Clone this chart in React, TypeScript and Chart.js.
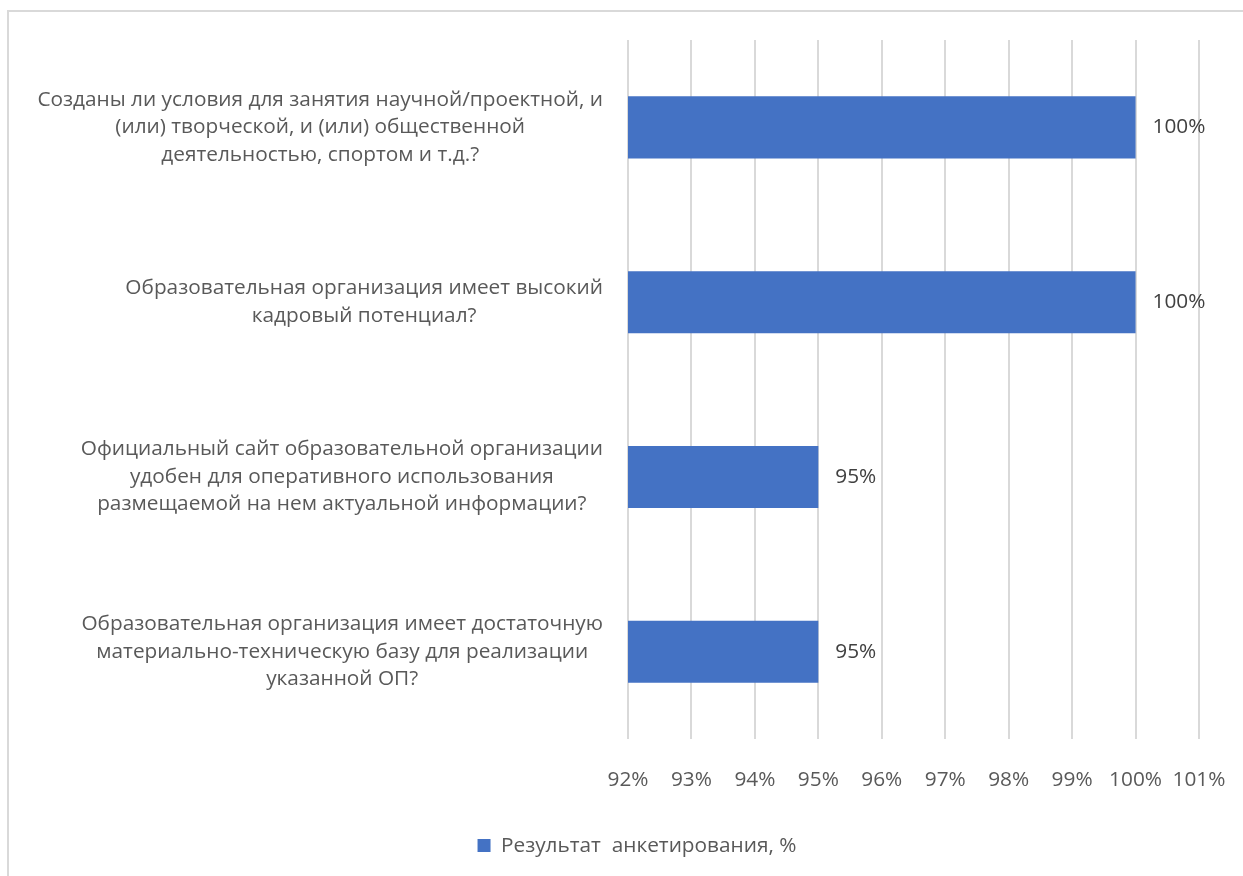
import React, { useEffect, useRef } from "react";
import { Chart, registerables } from "chart.js";

Chart.register(...registerables);

const categories: string[][] = [
  ["Созданы ли условия для занятия научной/проектной, и", "(или) творческой, и (или) общественной", "деятельностью, спортом и т.д.?"],
  ["Образовательная организация имеет высокий", "кадровый потенциал?"],
  ["Официальный сайт образовательной организации", "удобен для оперативного использования", "размещаемой на нем актуальной информации?"],
  ["Образовательная организация имеет достаточную", "материально-техническую базу для реализации", "указанной ОП?"],
];
const values: number[] = [100, 100, 95, 95];
const seriesName = "Результат  анкетирования, %";
const xMin = 92;
const xMax = 101;
const xStep = 1;

const FONT = "'Open Sans'";
const FS = 20.8;
const TEXT = "#595959";

const categoryLabelPlugin = {
  id: "categoryLabels",
  afterDraw(chart: any) {
    const ctx = chart.ctx;
    const yScale = chart.scales.y;
    const rightEdge = chart.chartArea.left - 25;
    const lineH = 27.5;
    ctx.save();
    ctx.font = `${FS}px ${FONT}`;
    ctx.fillStyle = TEXT;
    ctx.textAlign = "center";
    ctx.textBaseline = "middle";
    categories.forEach((lines, i) => {
      const y = yScale.getPixelForTick(i);
      const w = Math.max(...lines.map((l) => ctx.measureText(l).width));
      const cx = rightEdge - w / 2;
      lines.forEach((l, j) => {
        ctx.fillText(l, cx, y + (j - (lines.length - 1) / 2) * lineH);
      });
    });
    ctx.restore();
  },
};

const valueLabelPlugin = {
  id: "valueLabels",
  afterDatasetsDraw(chart: any) {
    const ctx = chart.ctx;
    const meta = chart.getDatasetMeta(0);
    ctx.save();
    ctx.font = `${FS}px ${FONT}`;
    ctx.fillStyle = "#404040";
    ctx.textAlign = "left";
    ctx.textBaseline = "middle";
    meta.data.forEach((bar: any, i: number) => {
      ctx.fillText(values[i] + "%", bar.x + 17, bar.y);
    });
    ctx.restore();
  },
};

export default function App() {
  const ref = useRef<HTMLCanvasElement>(null);
  useEffect(() => {
    if (!ref.current) return;
    const chart = new Chart(ref.current, {
      type: "bar",
      data: {
        labels: categories,
        datasets: [
          {
            label: seriesName,
            data: values,
            backgroundColor: "#4472c4",
            borderWidth: 0,
            categoryPercentage: 1,
            barPercentage: 0.355,
          },
        ],
      },
      options: {
        indexAxis: "y",
        animation: false,
        responsive: false,
        layout: { padding: { left: 31, right: 0, top: 40, bottom: 10 } },
        scales: {
          x: {
            min: xMin,
            max: xMax,
            ticks: {
              stepSize: xStep,
              padding: 28,
              color: TEXT,
              font: { family: FONT, size: FS },
              callback: (v: any) => v + "%",
            },
            grid: { color: "#d9d9d9", lineWidth: 2, drawTicks: false },
            border: { display: false },
            afterFit: (s: any) => {
              s.height = 86;
              s.paddingRight = 44;
            },
          },
          y: {
            grid: { display: false },
            border: { display: false },
            ticks: { display: false },
            afterFit: (s: any) => {
              s.width = 597;
            },
          },
        },
        plugins: {
          legend: {
            position: "bottom",
            labels: {
              boxWidth: 13,
              boxHeight: 13,
              padding: 10,
              color: TEXT,
              font: { family: FONT, size: FS },
            },
          },
          tooltip: { enabled: false },
        },
      },
      plugins: [categoryLabelPlugin, valueLabelPlugin],
    });
    return () => chart.destroy();
  }, []);
  return (
    <div style={{ position: "fixed", left: 0, top: 0, width: 1243, height: 876, overflow: "hidden", background: "#fff" }}>
      <div
        style={{
          position: "absolute",
          left: 7,
          top: 10,
          width: 1400,
          height: 1000,
          border: "2px solid #d9d9d9",
          boxSizing: "border-box",
        }}
      />
      <canvas ref={ref} width={1243} height={876} style={{ position: "absolute", left: 0, top: 0 }} />
    </div>
  );
}
